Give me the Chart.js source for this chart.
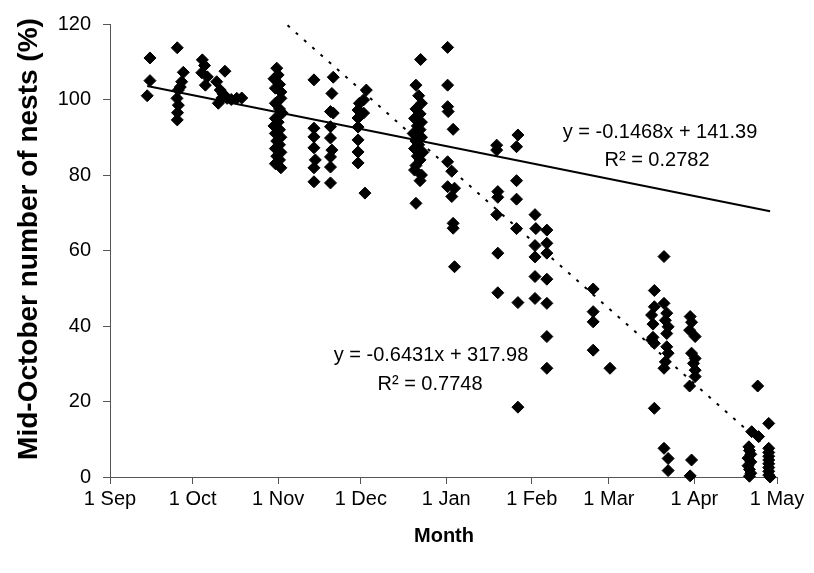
<!DOCTYPE html>
<html>
<head>
<meta charset="utf-8">
<title>Mid-October number of nests by month</title>
<script src="https://cdn.jsdelivr.net/npm/chart.js@4/dist/chart.umd.min.js"></script>
<style>
  html, body { margin: 0; padding: 0; background: #ffffff; }
  #wrap { width: 814px; height: 573px; }
</style>
</head>
<body>
<div id="wrap"><canvas id="chart" width="814" height="573"></canvas></div>
<script>
// Month ticks on the day axis (day of year, counting on past 31 Dec)
const monthTickDays   = [244, 274, 305, 335, 366, 397, 425, 456, 486];
const monthTickLabels = ['1 Sep', '1 Oct', '1 Nov', '1 Dec', '1 Jan', '1 Feb', '1 Mar', '1 Apr', '1 May'];

// Survey day of each count
const surveyDay = [
  258.5, 258.5, 257.5,
  268.4, 270.6, 270.0, 269.5, 268.8, 268.3, 268.8, 268.5, 268.4,
  277.5, 278.3, 277.3, 279.3, 278.6, 285.7,
  282.7, 284.0, 283.3, 284.6, 286.5, 288.0, 290.0, 291.8, 285.0,
  304.5, 305.0, 303.5, 305.5, 304.0, 306.0, 306.0, 304.0, 305.5, 306.5, 304.0, 305.0,
  303.5, 305.5, 304.0, 306.0, 304.5, 305.5, 304.0, 306.0, 304.5, 305.5, 304.0, 306.0,
  318.0, 318.0, 318.0, 318.0, 318.5, 318.0, 318.0,
  325.0, 324.5, 324.0, 325.0, 324.0, 324.0, 324.5, 324.0, 324.0, 324.0,
  337.0, 336.0, 334.5, 334.0, 336.0, 334.0, 334.0, 334.0, 334.0, 334.0, 336.5,
  356.7, 355.0, 356.0, 357.0, 355.0, 356.5, 354.5, 357.0, 355.5, 356.5, 354.0, 357.0,
  355.0, 356.0, 354.5, 357.5, 355.5, 356.5, 355.0, 354.5, 357.0, 356.5, 355.0,
  366.5, 366.5, 366.5, 366.7, 368.5, 366.5, 368.0, 366.5, 369.0, 368.0, 368.5, 368.5, 369.0,
  384.3, 384.3, 384.7, 384.7, 384.3, 384.7, 384.7,
  392.0, 391.5, 391.5, 391.5, 391.5, 392.0, 392.0,
  398.2, 398.5, 398.2, 398.2, 398.2, 398.2,
  402.5, 402.5, 402.5, 402.5, 402.5, 402.5, 402.5,
  419.3, 419.3, 419.3, 419.3,
  425.4,
  445.0, 441.5, 445.0, 441.5, 446.0, 440.5, 445.5, 441.0, 446.5, 446.0, 441.0,
  440.5, 441.5, 446.0, 446.5, 445.5, 445.0, 441.5, 445.0, 446.5, 446.5,
  454.5, 455.0, 454.3, 456.3, 455.0, 456.3, 455.7, 456.3, 456.3, 454.3, 455.0, 454.5,
  479.0, 476.8, 479.3, 475.8, 476.0, 476.5, 475.5, 476.5, 475.5, 476.0, 476.5, 476.0,
  483.0, 483.0, 483.0, 483.0, 483.0, 483.0, 483.0, 483.0, 483.0, 483.5
];

// Number of nests as a percentage of the mid-October count
const nestPercent = [
  111.0, 105.0, 101.0,
  113.7, 107.2, 104.7, 103.3, 102.5, 100.3, 98.5, 96.5, 94.6,
  110.5, 109.0, 107.1, 106.0, 103.8, 107.5,
  104.7, 102.5, 99.0, 100.4, 100.3, 100.0, 100.3, 100.4, 101.5,
  108.3, 106.5, 105.5, 104.0, 103.0, 102.0, 100.3, 99.0, 97.5, 96.4, 95.0, 94.0,
  93.0, 92.0, 91.0, 90.0, 89.0, 88.0, 87.0, 86.0, 85.0, 84.0, 83.0, 81.9,
  105.2, 92.4, 90.1, 87.2, 84.0, 81.9, 78.2,
  105.9, 101.6, 96.8, 96.4, 92.8, 89.8, 86.6, 84.8, 82.1, 77.9,
  102.5, 99.9, 99.0, 97.2, 96.4, 95.1, 92.7, 89.3, 86.1, 83.2, 75.2,
  110.6, 103.8, 101.0, 99.0, 97.5, 96.2, 95.0, 94.0, 93.0, 92.0, 91.0, 90.0,
  89.0, 88.0, 87.0, 86.0, 85.0, 84.0, 82.5, 81.3, 80.0, 78.5, 72.5,
  113.8, 103.8, 98.1, 96.8, 92.1, 83.5, 81.0, 76.9, 76.5, 74.3, 67.2, 65.9, 55.7,
  87.9, 86.6, 75.6, 74.1, 69.5, 59.3, 48.8,
  90.6, 87.5, 78.5, 73.6, 65.8, 46.2, 18.5,
  69.5, 65.8, 61.3, 58.3, 53.1, 47.3,
  65.4, 61.9, 59.3, 52.4, 46.0, 37.2, 28.8,
  49.8, 43.8, 41.1, 33.6,
  28.8,
  58.4, 49.4, 46.0, 45.1, 43.4, 42.9, 41.5, 40.5, 39.8, 38.0, 37.0,
  36.3, 35.4, 34.5, 32.8, 30.5, 28.8, 18.2, 7.6, 4.9, 1.7,
  42.5, 41.0, 38.9, 37.2, 32.8, 31.4, 30.1, 28.3, 26.6, 24.1, 4.5, 0.3,
  24.1, 12.0, 10.7, 8.0, 7.0, 6.0, 5.0, 4.0, 3.0, 2.0, 1.0, 0.2,
  14.2, 7.6, 6.5, 5.5, 4.5, 3.5, 2.5, 1.5, 0.5, 0.0
];

// Linear trend lines: solid (first) and dotted (second)
const trendSlopes     = [-0.1468, -0.6431];
const trendIntercepts = [141.39, 317.98];
const trendR2         = [0.2782, 0.7748];

const FONT = '"Liberation Sans", Arial, Helvetica, sans-serif';

const points = surveyDay.map((d, i) => ({ x: d, y: nestPercent[i] }));
const dayMin = Math.min(...surveyDay);
const dayMax = Math.max(...surveyDay);
const trendPoints = k => [dayMin, dayMax].map(x => ({ x, y: trendSlopes[k] * x + trendIntercepts[k] }));

const eqText = k => 'y = ' + trendSlopes[k].toFixed(4) + 'x + ' + trendIntercepts[k].toFixed(2);
const r2Text = k => 'R\u00B2 = ' + trendR2[k].toFixed(4);

// Equation labels and axis titles
const textLayer = {
  id: 'textLayer',
  afterDraw(chart) {
    const ctx = chart.ctx;
    ctx.save();
    ctx.fillStyle = '#000000';
    ctx.textAlign = 'center';
    ctx.textBaseline = 'alphabetic';

    ctx.font = '20px ' + FONT;
    ctx.fillText(eqText(0), 660, 138);
    ctx.fillText(r2Text(0), 657, 166);
    ctx.fillText(eqText(1), 431, 361);
    ctx.fillText(r2Text(1), 430, 390);

    ctx.font = 'bold 20px ' + FONT;
    ctx.fillText('Month', 444, 542);

    ctx.font = 'bold 28px ' + FONT;
    ctx.translate(37, 239);
    ctx.rotate(-Math.PI / 2);
    ctx.fillText('Mid-October number of nests (%)', 0, 0);
    ctx.restore();
  }
};

new Chart(document.getElementById('chart'), {
  type: 'scatter',
  data: {
    datasets: [
      {
        data: points,
        order: 0,
        pointStyle: 'rectRot',
        pointRadius: 6,
        pointHoverRadius: 6,
        backgroundColor: '#000000',
        borderColor: '#000000',
        borderWidth: 1,
        clip: false
      },
      {
        data: trendPoints(0),
        order: 1,
        showLine: true,
        pointRadius: 0,
        borderColor: '#000000',
        borderWidth: 2
      },
      {
        data: trendPoints(1),
        order: 2,
        showLine: true,
        pointRadius: 0,
        borderColor: '#000000',
        borderWidth: 2,
        borderDash: [3, 8]
      }
    ]
  },
  options: {
    responsive: false,
    animation: false,
    devicePixelRatio: 1,
    layout: { padding: { left: 0, right: 37, top: 24, bottom: 0 } },
    plugins: { legend: { display: false }, tooltip: { enabled: false } },
    scales: {
      x: {
        type: 'linear',
        min: 244,
        max: 486,
        afterBuildTicks: s => { s.ticks = monthTickDays.map(v => ({ value: v })); },
        afterFit: s => { s.height = 96; },
        ticks: {
          autoSkip: false,
          maxRotation: 0,
          padding: 3,
          color: '#000000',
          font: { family: FONT, size: 20 },
          callback: (v, i) => monthTickLabels[i]
        },
        grid: { drawOnChartArea: false, tickLength: 7, color: '#555555', tickColor: '#555555' },
        border: { color: '#555555', width: 1 }
      },
      y: {
        min: 0,
        max: 120,
        afterFit: s => { s.width = 110; },
        ticks: {
          stepSize: 20,
          padding: 12,
          color: '#000000',
          font: { family: FONT, size: 20 }
        },
        grid: { drawOnChartArea: false, tickLength: 7, color: '#555555', tickColor: '#555555' },
        border: { color: '#555555', width: 1 }
      }
    }
  },
  plugins: [textLayer]
});
</script>
</body>
</html>
